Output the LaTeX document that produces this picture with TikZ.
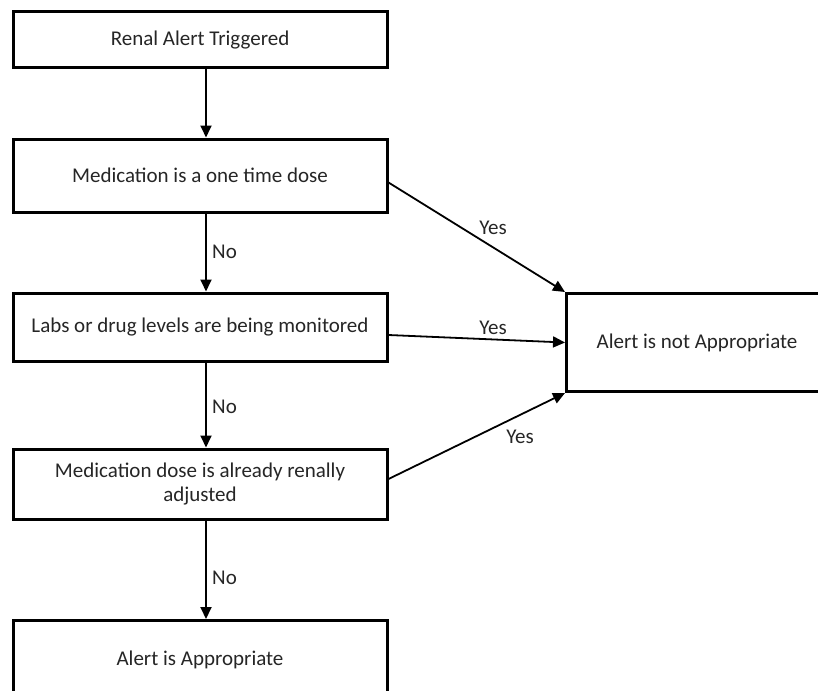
\documentclass[tikz,border=0pt]{standalone}
\usepackage{fontspec}
\setmainfont{Carlito}
\usetikzlibrary{arrows.meta}
\begin{document}
\begin{tikzpicture}[x=1pt,y=-1pt,
  box/.style={draw=black,line width=3pt,fill=white,align=center,inner sep=0pt,
    font=\fontsize{21}{24}\selectfont,text=black!85},
  arr/.style={line width=1.8pt,-{Triangle[width=11pt,length=12pt]}},
  lab/.style={font=\fontsize{21}{24}\selectfont,text=black!85,inner sep=0pt}]
\useasboundingbox (0,0) rectangle (818,690);
\clip (0,0) rectangle (818,690);
\node[box,minimum width=374pt,minimum height=56pt] (b1) at (200,40) {Renal Alert Triggered};
\node[box,minimum width=374pt,minimum height=73pt] (b2) at (200,175.5) {Medication is a one time dose};
\node[box,minimum width=374pt,minimum height=68pt] (b3) at (200,327) {Labs or drug levels are being monitored};
\node[box,minimum width=374pt,minimum height=70pt] (b4) at (200,484) {Medication dose is already renally\\adjusted};
\node[box,minimum width=374pt,minimum height=100pt,anchor=north] (b5) at (200,619) {};
\node[lab] at (200,660) {Alert is Appropriate};
\node[box,minimum width=280pt,minimum height=98pt,anchor=north west] (b6) at (565,292) {};
\node[lab] at (697,343) {Alert is not Appropriate};
\draw[arr] ([xshift=6pt]b1.south) -- ([xshift=6pt]b2.north);
\draw[arr] ([xshift=6pt]b2.south) -- ([xshift=6pt]b3.north);
\draw[arr] ([xshift=6pt]b3.south) -- ([xshift=6pt]b4.north);
\draw[arr] ([xshift=6pt]b4.south) -- ([xshift=6pt]b5.north);
\draw[arr] ([yshift=-7pt]b2.east) -- (b6.north west);
\draw[arr] ([yshift=-8pt]b3.east) -- (b6.west);
\draw[arr] ([yshift=5pt]b4.east) -- (b6.south west);
\node[lab,anchor=west] (n1) at (212,252) {No};
\node[lab,anchor=west] (n2) at (212,407) {No};
\node[lab,anchor=west] (n3) at (212,578) {No};
\node[lab] (y1) at (493,228) {Yes};
\node[lab] (y2) at (493,328) {Yes};
\node[lab] (y3) at (520,437) {Yes};
\end{tikzpicture}
\end{document}
